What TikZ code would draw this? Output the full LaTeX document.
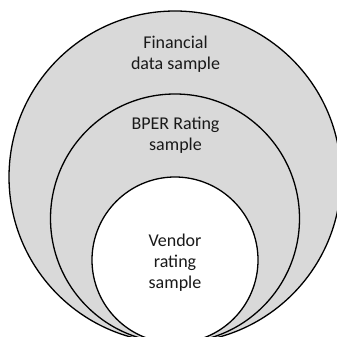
\documentclass[tikz,border=0pt]{standalone}
\usepackage{fontspec}
\setmainfont{Carlito}
\begin{document}
\begin{tikzpicture}[x=1pt,y=-1pt,
  ring/.style={draw=black,line width=1.3pt},
  lbl/.style={align=center,font=\fontsize{18}{21}\selectfont,text=black!90,inner sep=0pt}]
\useasboundingbox (0,0) rectangle (337,337);
\clip (0,0) rectangle (337,337);
\fill[white] (0,0) rectangle (337,337);
\draw[ring,fill=gray!30] (175,177) circle[radius=166];
\draw[ring,fill=gray!30] (175,218.5) circle[radius=124.5];
\draw[ring,fill=white] (175,260) circle[radius=83];
\node[lbl] (fin) at (175.5,54) {Financial\\data sample};
\node[lbl] (bper) at (175.5,135) {BPER Rating\\sample};
\node[lbl] (vend) at (175,263) {Vendor\\rating\\sample};
\end{tikzpicture}
\end{document}
